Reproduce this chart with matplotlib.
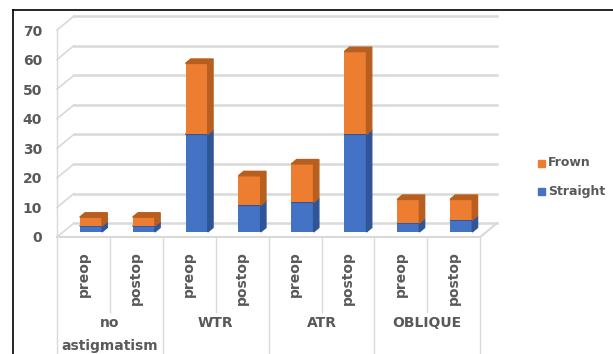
import matplotlib.pyplot as plt
from matplotlib.patches import Polygon

# Stacked counts per astigmatism type, preop/postop
groups = ['no\nastigmatism', 'WTR', 'ATR', 'OBLIQUE']
stages = ['preop', 'postop']
straight = [2, 2, 33, 9, 10, 33, 3, 4]
frown = [3, 3, 24, 10, 13, 28, 8, 7]
yticks = [0, 10, 20, 30, 40, 50, 60, 70]

BLUE, BLUE_SIDE = '#4472C4', '#2F5597'
ORANGE, ORANGE_SIDE = '#ED7D31', '#B85F1F'
GRID = '#D9D9D9'
TXT = '#595959'

# depth of the 3D box (data units) and where the bars sit inside it
DX, DY = 0.32, 4.7
OX, OY = 0.14, 1.7
BW, BDX, BDY = 0.42, 0.1, 1.5

fig = plt.figure(figsize=(6.13, 3.54), dpi=100)
W, H = 613, 354
ppx, ppy = 52.9, 2.957
x0, x1, y0, y1 = -0.1, 8.4, -0.5, 75
ax = fig.add_axes([(57 + x0 * ppx) / W, (H - (237 - y0 * ppy)) / H,
                   (x1 - x0) * ppx / W, (y1 - y0) * ppy / H])
ax.set_xlim(x0, x1)
ax.set_ylim(y0, y1)
for s in ax.spines.values():
    s.set_visible(False)
ax.set_xticks([])
ax.set_yticks(yticks)
ax.tick_params(axis='y', length=0, pad=7, labelsize=10, labelcolor=TXT)
for lab in ax.get_yticklabels():
    lab.set_fontweight('bold')

n = len(straight)

# back wall gridlines and side wall diagonals
for t in yticks:
    ax.plot([DX, n + DX], [t + DY, t + DY], color=GRID, lw=1.8, zorder=1)
    ax.plot([0, DX], [t, t + DY], color=GRID, lw=1.2, zorder=1)
ax.plot([0, 0], [0, yticks[-1]], color=GRID, lw=1.0, zorder=1)
# floor edges
ax.plot([0, n], [0, 0], color=GRID, lw=1.5, zorder=1)
ax.plot([n, n + DX], [0, DY], color=GRID, lw=1.5, zorder=1)


def box(xl, yb, h, face, side):
    ax.bar(xl, h, width=BW, bottom=yb, align='edge', color=face, zorder=3)
    ax.add_patch(Polygon([(xl + BW, yb), (xl + BW + BDX, yb + BDY),
                          (xl + BW + BDX, yb + h + BDY), (xl + BW, yb + h)],
                         closed=True, color=side, zorder=3))
    ax.add_patch(Polygon([(xl, yb + h), (xl + BW, yb + h),
                          (xl + BW + BDX, yb + h + BDY), (xl + BDX, yb + h + BDY)],
                         closed=True, color=side, zorder=3))


for i in range(n):
    xl = i + 0.5 - BW / 2 + OX
    box(xl, OY, straight[i], BLUE, BLUE_SIDE)
    box(xl, OY + straight[i], frown[i], ORANGE, ORANGE_SIDE)

# category axis: separators, stage labels, group labels
to_y = lambda px: (237 - px) / ppy
for i in range(n + 1):
    bottom = 354 if i % 2 == 0 else 312
    ax.plot([i, i], [0, to_y(bottom)], color=GRID, lw=1.0, clip_on=False)
for i in range(n):
    ax.text(i + 0.5, to_y(251), stages[i % 2], rotation=90, ha='center',
            va='top', fontsize=10, color=TXT, fontweight='bold', clip_on=False)
for g, name in enumerate(groups):
    ax.text(2 * g + 1, to_y(316), name, ha='center', va='top', fontsize=10,
            color=TXT, fontweight='bold', linespacing=1.8, clip_on=False)

# legend
for name, c, py in [('Frown', ORANGE, 163), ('Straight', BLUE, 191)]:
    fig.patches.append(plt.Rectangle((538 / W, 1 - (py + 3.5) / H), 7 / W, 7 / H,
                                     transform=fig.transFigure, color=c))
    fig.text(548 / W, 1 - py / H, name, va='center', ha='left', fontsize=9,
             color=TXT, fontweight='bold')

# outer border
fig.add_artist(plt.Line2D([13 / W, 13 / W], [0, 1 - 10 / H], color='black', lw=1.2))
fig.add_artist(plt.Line2D([13 / W, 1], [1 - 10 / H, 1 - 10 / H], color='black', lw=1.2))

fig.savefig('out.png', dpi=100)
